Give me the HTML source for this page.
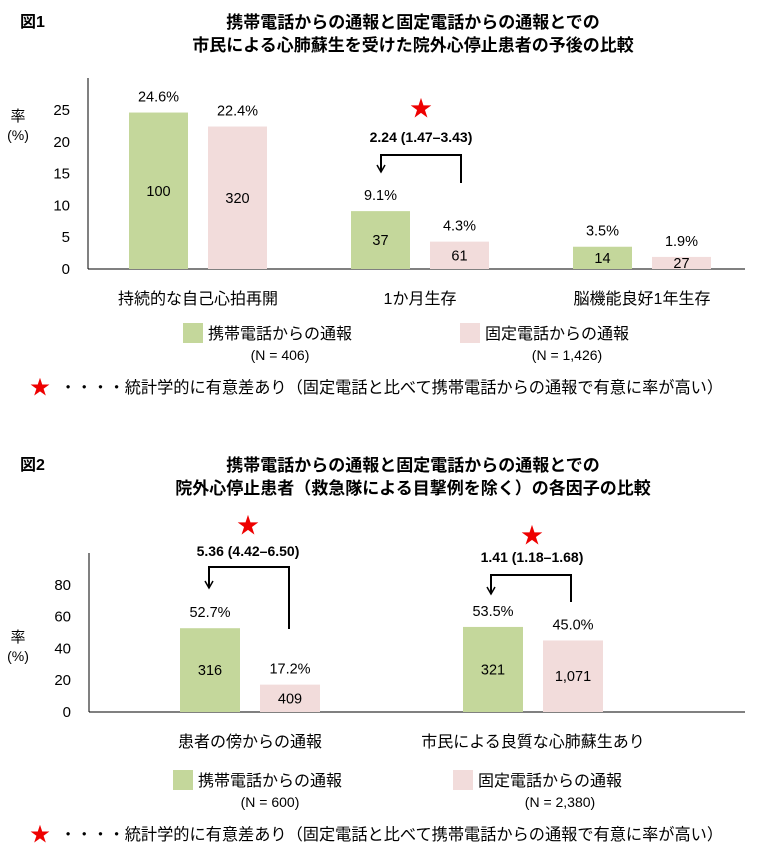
<!DOCTYPE html>
<html><head><meta charset="utf-8"><style>
body{margin:0;background:#fff}
svg{display:block;font-family:"Liberation Sans","Noto Sans CJK JP",sans-serif}
</style></head><body>
<svg id="c" width="763" height="858" viewBox="0 0 763 858"></svg>
<script>
const cats1=["持続的な自己心拍再開","1か月生存","脳機能良好1年生存"];
const mobile1=[24.6,9.1,3.5];
const fixed1=[22.4,4.3,1.9];
const mobileN1=["100","37","14"];
const fixedN1=["320","61","27"];
const ticks1=[0,5,10,15,20,25];
const cats2=["患者の傍からの通報","市民による良質な心肺蘇生あり"];
const mobile2=[52.7,53.5];
const fixed2=[17.2,45.0];
const mobileN2=["316","321"];
const fixedN2=["409","1,071"];
const ticks2=[0,20,40,60,80];
const NS="http://www.w3.org/2000/svg";
const svg=document.getElementById('c');
function el(tag,attrs,text,name){const e=document.createElementNS(NS,tag);for(const k in attrs)e.setAttribute(k,attrs[k]);if(text!=null)e.textContent=text;


svg.appendChild(e);return e;}
function txt(x,y,s,size,name,opt){opt=opt||{};return el('text',{x:x,y:y,'font-size':size,'text-anchor':opt.anchor||'middle','font-weight':opt.bold?'bold':'normal',fill:opt.fill||'#000'},s,name);}
const G="#c4d79b",P="#f2dcdb";
function chart(o){
  const y=v=>o.y0-v*o.ppu;
  el('line',{x1:o.ax,y1:o.top,x2:o.ax,y2:o.y0,stroke:'#000','stroke-width':1},null,'y-axis');
  el('line',{x1:o.ax,y1:o.y0,x2:745,y2:o.y0,stroke:'#000','stroke-width':1},null,'x-axis');
  o.ticks.forEach(t=>txt(o.ax-18,y(t)+5,String(t),15,'y-tick-label',{anchor:'end'}));
  txt(18,o.rateY,'率',15,'y-axis-title');
  txt(18,o.rateY+19,'(%)',14,'y-axis-unit');
  o.cats.forEach((c,i)=>{
    const cx=o.c0+i*o.step;
    const gx=cx-o.gap/2-o.bw, px=cx+o.gap/2;
    const gy=y(o.m[i]), py=y(o.f[i]);
    el('rect',{x:gx,y:gy,width:o.bw,height:o.y0-gy,fill:G},null,'bar-mobile');
    el('rect',{x:px,y:py,width:o.bw,height:o.y0-py,fill:P},null,'bar-fixed');
    txt(gx+o.bw/2,gy-11,o.m[i].toFixed(1)+'%',14.5,'value-label-mobile');
    txt(px+o.bw/2,py-11,o.f[i].toFixed(1)+'%',14.5,'value-label-fixed');
    txt(gx+o.bw/2,(gy+o.y0)/2+5,o.mn[i],14.5,'count-label-mobile');
    txt(px+o.bw/2,(py+o.y0)/2+5,o.fn[i],14.5,'count-label-fixed');
    txt(cx,o.y0+35,c,16,'category-label');
  });
}
function bracket(cx,starY,textY,by,rx,ry,lx,ay,s){
  txt(cx,starY,'★',22,'significance-star',{fill:'#e00'});
  txt(cx,textY,s,14,'odds-ratio-label',{bold:true});
  el('polyline',{points:`${rx},${ry} ${rx},${by} ${lx},${by} ${lx},${ay}`,fill:'none',stroke:'#000','stroke-width':2},null,'bracket-line');
  el('polyline',{points:`${lx-4},${ay-7} ${lx},${ay} ${lx+4},${ay-7}`,fill:'none',stroke:'#000','stroke-width':1.5},null,'bracket-arrow');
}
function legend(y,n1,n2,gx,pxx){
  el('rect',{x:gx,y:y,width:20,height:20,fill:G},null,'legend-swatch-mobile');
  txt(gx+25,y+16,'携帯電話からの通報',16,'legend-mobile',{anchor:'start'});
  txt(gx+97,y+37,n1,14,'legend-n-mobile');
  el('rect',{x:pxx,y:y,width:20,height:20,fill:P},null,'legend-swatch-fixed');
  txt(pxx+25,y+16,'固定電話からの通報',16,'legend-fixed',{anchor:'start'});
  txt(pxx+107,y+37,n2,14,'legend-n-fixed');
}
function note(y){
  txt(40,y+6,'★',20,'note-star',{fill:'#e00'});
  txt(60,y+5,'・・・・統計学的に有意差あり（固定電話と比べて携帯電話からの通報で有意に率が高い）',16.2,'significance-note',{anchor:'start'});
}
// Figure 1
txt(20,27,'図1',16,'figure1-label',{anchor:'start',bold:true});
txt(413,28,'携帯電話からの通報と固定電話からの通報とでの',17,'figure1-title-line1',{bold:true});
txt(413,51,'市民による心肺蘇生を受けた院外心停止患者の予後の比較',17,'figure1-title-line2',{bold:true});
chart({ax:88,top:78,y0:269,ppu:6.36,ticks:ticks1,rateY:121,cats:cats1,m:mobile1,f:fixed1,mn:mobileN1,fn:fixedN1,c0:198,step:222,bw:59,gap:20});
bracket(421,116,142,155,461,183,381,172,'2.24 (1.47–3.43)');
legend(323,'(N = 406)','(N = 1,426)',183,460);
note(388);
// Figure 2
txt(20,470,'図2',16,'figure2-label',{anchor:'start',bold:true});
txt(413,471,'携帯電話からの通報と固定電話からの通報とでの',17,'figure2-title-line1',{bold:true});
txt(413,494,'院外心停止患者（救急隊による目撃例を除く）の各因子の比較',17,'figure2-title-line2',{bold:true});
chart({ax:89,top:553,y0:712,ppu:1.59,ticks:ticks2,rateY:642,cats:cats2,m:mobile2,f:fixed2,mn:mobileN2,fn:fixedN2,c0:250,step:283,bw:60,gap:20});
bracket(248,533,556,567,289,629,209,588,'5.36 (4.42–6.50)');
bracket(532,543,562,575,571,602,491,594,'1.41 (1.18–1.68)');
legend(770,'(N = 600)','(N = 2,380)',173,453);
note(835);
</script>
</body></html>
